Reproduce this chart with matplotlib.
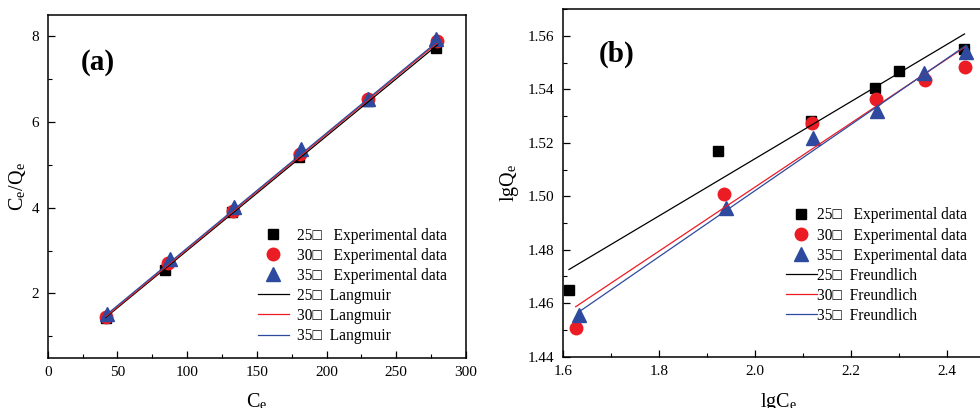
import matplotlib
matplotlib.use("Agg")
import matplotlib.pyplot as plt
from matplotlib.ticker import MultipleLocator, AutoMinorLocator

plt.rcParams['font.family'] = ['Liberation Serif', 'DejaVu Sans']
plt.rcParams['mathtext.fontset'] = 'stix'

# ---------------- data: panel (a) Langmuir ----------------
temps = ["25", "30", "35"]
ce_25 = [41.6, 84.1, 132.2, 180.4, 229.5, 278.3]
ce_30 = [42.0, 86.3, 132.8, 181.0, 229.8, 279.5]
ce_35 = [42.8, 87.7, 133.3, 181.9, 230.0, 278.8]
ceqe_25 = [1.43, 2.55, 3.90, 5.18, 6.50, 7.72]
ceqe_30 = [1.45, 2.70, 3.92, 5.25, 6.55, 7.90]
ceqe_35 = [1.52, 2.80, 4.02, 5.38, 6.55, 7.95]
lang_x = [41.6, 279.5]
lang_25 = [1.44, 7.80]
lang_30 = [1.46, 7.85]
lang_35 = [1.49, 7.88]

# ---------------- data: panel (b) Freundlich ----------------
lgce_25 = [1.613, 1.923, 2.117, 2.251, 2.300, 2.437]
lgce_30 = [1.627, 1.935, 2.119, 2.253, 2.354, 2.438]
lgce_35 = [1.634, 1.940, 2.121, 2.254, 2.353, 2.440]
lgqe_25 = [1.4651, 1.5169, 1.5281, 1.5405, 1.5467, 1.5551]
lgqe_30 = [1.4508, 1.5010, 1.5274, 1.5363, 1.5436, 1.5483]
lgqe_35 = [1.4555, 1.4958, 1.5219, 1.5319, 1.5462, 1.5541]
fr_x_25 = [1.613, 2.437]
fr_y_25 = [1.4726, 1.5607]
fr_x_30 = [1.627, 2.438]
fr_y_30 = [1.4587, 1.5558]
fr_x_35 = [1.634, 2.440]
fr_y_35 = [1.4568, 1.5564]

BLACK = "#000000"
RED = "#ec1c24"
BLUE = "#2e4a9e"
SQ = "\u25a1"

fig = plt.figure(figsize=(9.8, 4.08), dpi=100)
ax1 = fig.add_axes([0.0487, 0.1233, 0.4268, 0.840])
ax2 = fig.add_axes([0.5742, 0.1257, 0.4408, 0.852])

def style(ax):
    ax.tick_params(which='both', direction='in', top=False, right=False,
                   labelsize=11)
    ax.tick_params(which='major', length=5, width=0.9, pad=6)
    ax.tick_params(which='minor', length=3, width=0.8)
    for s in ax.spines.values():
        s.set_linewidth(1.1)

# ---- panel (a)
ax1.plot(ce_25, ceqe_25, 's', color=BLACK, ms=7.5, label=f"25{SQ}   Experimental data")
ax1.plot(ce_30, ceqe_30, 'o', color=RED, ms=9, label=f"30{SQ}   Experimental data")
ax1.plot(ce_35, ceqe_35, '^', color=BLUE, ms=9.5, label=f"35{SQ}   Experimental data")
ax1.plot(lang_x, lang_25, '-', color=BLACK, lw=0.9, label=f"25{SQ}  Langmuir")
ax1.plot(lang_x, lang_30, '-', color=RED, lw=0.9, label=f"30{SQ}  Langmuir")
ax1.plot(lang_x, lang_35, '-', color=BLUE, lw=0.9, label=f"35{SQ}  Langmuir")
ax1.set_xlim(0, 300)
ax1.set_ylim(0.5, 8.5)
ax1.xaxis.set_major_locator(MultipleLocator(50))
ax1.xaxis.set_minor_locator(AutoMinorLocator(2))
ax1.yaxis.set_major_locator(MultipleLocator(2))
ax1.yaxis.set_minor_locator(AutoMinorLocator(2))
style(ax1)
ax1.set_xlabel(r"C$_\mathregular{e}$", fontsize=14.5, labelpad=9)
ax1.set_ylabel(r"C$_\mathregular{e}$/Q$_\mathregular{e}$", fontsize=14.5, labelpad=3)
ax1.text(0.12, 0.86, "(a)", transform=ax1.transAxes, fontsize=21,
         fontweight='bold', ha='center', va='center')
ax1.legend(loc='lower right', bbox_to_anchor=(0.955, 0.04), frameon=False,
           fontsize=11.2, borderpad=0, borderaxespad=0, labelspacing=0.26,
           handlelength=2.0, handletextpad=0.55)

# ---- panel (b)
ax2.plot(lgce_25, lgqe_25, 's', color=BLACK, ms=7.5, label=f"25{SQ}   Experimental data")
ax2.plot(lgce_30, lgqe_30, 'o', color=RED, ms=9, label=f"30{SQ}   Experimental data")
ax2.plot(lgce_35, lgqe_35, '^', color=BLUE, ms=9.5, label=f"35{SQ}   Experimental data")
ax2.plot(fr_x_25, fr_y_25, '-', color=BLACK, lw=0.9, label=f"25{SQ}  Freundlich")
ax2.plot(fr_x_30, fr_y_30, '-', color=RED, lw=0.9, label=f"30{SQ}  Freundlich")
ax2.plot(fr_x_35, fr_y_35, '-', color=BLUE, lw=0.9, label=f"35{SQ}  Freundlich")
ax2.set_xlim(1.6, 2.5)
ax2.set_ylim(1.44, 1.57)
ax2.xaxis.set_major_locator(MultipleLocator(0.2))
ax2.xaxis.set_minor_locator(AutoMinorLocator(2))
ax2.yaxis.set_major_locator(MultipleLocator(0.02))
ax2.yaxis.set_minor_locator(AutoMinorLocator(2))
ax2.xaxis.set_major_formatter(plt.FormatStrFormatter('%.1f'))
ax2.yaxis.set_major_formatter(plt.FormatStrFormatter('%.2f'))
style(ax2)
ax2.set_xlabel(r"lgC$_\mathregular{e}$", fontsize=14.5, labelpad=9)
ax2.set_ylabel(r"lgQ$_\mathregular{e}$", fontsize=14.5, labelpad=5)
ax2.text(0.125, 0.87, "(b)", transform=ax2.transAxes, fontsize=21,
         fontweight='bold', ha='center', va='center')
ax2.legend(loc='lower right', bbox_to_anchor=(0.935, 0.095), frameon=False,
           fontsize=11.2, borderpad=0, borderaxespad=0, labelspacing=0.26,
           handlelength=2.0, handletextpad=0.0)

fig.savefig("out.png", dpi=100)
